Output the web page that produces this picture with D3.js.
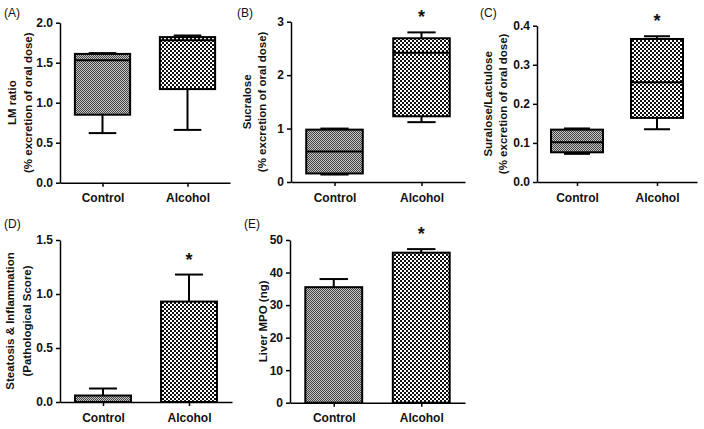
<!DOCTYPE html>
<meta charset="utf-8">
<script src="https://d3js.org/d3.v7.min.js"></script>
<style>
body { margin: 0; background: #fff; }
svg { font-family: Arial, "Liberation Sans", sans-serif; }
.axis path, .axis line { stroke: #000; stroke-width: 1.5px; }
.axis text { font-size: 12px; font-weight: bold; fill: #111; }
.ytitle { font-size: 11.5px; font-weight: bold; fill: #111; }
.plabel { font-size: 12px; fill: #111; }
.star { font-size: 18px; font-weight: bold; fill: #111; }
</style>
<body>
<script>

var groups = ["Control", "Alcohol"];

// box stats: [min, q1, median, q3, max]
var lmRatio   = [[0.62, 0.85, 1.53, 1.61, 1.62], [0.66, 1.17, 1.78, 1.82, 1.84]];
var sucralose = [[0.14, 0.16, 0.57, 0.98, 1.00], [1.12, 1.23, 2.42, 2.69, 2.80]];
var sucLac    = [[0.072, 0.076, 0.102, 0.134, 0.137], [0.135, 0.164, 0.255, 0.366, 0.373]];

// bar means and error (upper)
var pathMean = [0.06, 0.93];
var pathErr  = [0.065, 0.25];
var mpoMean  = [35.5, 46.1];
var mpoErr   = [2.5, 1.1];

var lmTicks   = [0, 0.5, 1.0, 1.5, 2.0];
var sucTicks  = [0, 1, 2, 3];
var slTicks   = [0, 0.1, 0.2, 0.3, 0.4];
var pathTicks = [0, 0.5, 1.0, 1.5];
var mpoTicks  = [0, 10, 20, 30, 40, 50];

var svg = d3.select("body").append("svg")
    .attr("width", 704)
    .attr("height", 429);

var defs = svg.append("defs");
// fine grey checker for control
var pc = defs.append("pattern").attr("id", "pctrl")
    .attr("width", 2).attr("height", 2).attr("patternUnits", "userSpaceOnUse");
pc.append("rect").attr("width", 2).attr("height", 2).attr("fill", "#c4c4c4");
pc.append("rect").attr("width", 1).attr("height", 1).attr("fill", "#444");
pc.append("rect").attr("x", 1).attr("y", 1).attr("width", 1).attr("height", 1).attr("fill", "#444");
// coarse black/white checker for alcohol
var pa = defs.append("pattern").attr("id", "palc")
    .attr("width", 4).attr("height", 4).attr("patternUnits", "userSpaceOnUse");
pa.append("rect").attr("width", 4).attr("height", 4).attr("fill", "#fff");
pa.append("rect").attr("width", 2).attr("height", 2).attr("fill", "#111");
pa.append("rect").attr("x", 2).attr("y", 2).attr("width", 2).attr("height", 2).attr("fill", "#111");

var fills = ["url(#pctrl)", "url(#palc)"];

function makePanel(p) {
  var x = d3.scalePoint().domain(groups).range([p.x0, p.x1]).padding(0.5);
  var y = d3.scaleLinear().domain([0, p.ticks[p.ticks.length - 1]]).range([p.y0, p.y1]);
  var g = svg.append("g");

  g.append("g").attr("class", "axis")
    .attr("transform", "translate(0," + p.y0 + ")")
    .call(d3.axisBottom(x).tickSize(4).tickSizeOuter(0).tickPadding(7));

  g.append("g").attr("class", "axis")
    .attr("transform", "translate(" + p.x0 + ",0)")
    .call(d3.axisLeft(y).tickValues(p.ticks).tickSize(4).tickSizeOuter(0).tickPadding(3)
      .tickFormat(d3.format(p.fmt)));

  var mid = (p.y0 + p.y1) / 2;
  p.titles.forEach(function(t, i) {
    g.append("text").attr("class", "ytitle")
      .attr("text-anchor", "middle")
      .attr("transform", "translate(" + p.tx[i] + "," + mid + ") rotate(-90)")
      .text(t);
  });

  g.append("text").attr("class", "plabel")
    .attr("x", p.lx).attr("y", p.ly).text(p.label);

  return {x: x, y: y, g: g, bw: x.step() * 0.65};
}

function drawBoxes(p, stats) {
  var s = makePanel(p);
  stats.forEach(function(d, i) {
    var cx = s.x(groups[i]), bw = s.bw, cw = bw * 0.5;
    var grp = s.g.append("g").attr("stroke", "#000").attr("stroke-width", 2);
    grp.append("line").attr("x1", cx).attr("x2", cx).attr("y1", s.y(d[0])).attr("y2", s.y(d[4]));
    grp.append("line").attr("x1", cx - cw / 2).attr("x2", cx + cw / 2).attr("y1", s.y(d[0])).attr("y2", s.y(d[0]));
    grp.append("line").attr("x1", cx - cw / 2).attr("x2", cx + cw / 2).attr("y1", s.y(d[4])).attr("y2", s.y(d[4]));
    grp.append("rect").attr("x", cx - bw / 2).attr("width", bw)
      .attr("y", s.y(d[3])).attr("height", s.y(d[1]) - s.y(d[3]))
      .attr("fill", fills[i]);
    grp.append("line").attr("x1", cx - bw / 2).attr("x2", cx + bw / 2).attr("y1", s.y(d[2])).attr("y2", s.y(d[2]));
  });
  if (p.star) addStar(s, stats[1][4]);
}

function drawBars(p, means, errs) {
  var s = makePanel(p);
  means.forEach(function(m, i) {
    var cx = s.x(groups[i]), bw = s.bw, cw = bw * 0.5;
    var grp = s.g.append("g").attr("stroke", "#000").attr("stroke-width", 2);
    grp.append("line").attr("x1", cx).attr("x2", cx).attr("y1", s.y(m)).attr("y2", s.y(m + errs[i]));
    grp.append("line").attr("x1", cx - cw / 2).attr("x2", cx + cw / 2)
      .attr("y1", s.y(m + errs[i])).attr("y2", s.y(m + errs[i]));
    grp.append("rect").attr("x", cx - bw / 2).attr("width", bw)
      .attr("y", s.y(m)).attr("height", s.y(0) - s.y(m))
      .attr("fill", fills[i]);
  });
  if (p.star) addStar(s, means[1] + errs[1]);
}

function addStar(s, top) {
  s.g.append("text").attr("class", "star")
    .attr("text-anchor", "middle")
    .attr("x", s.x(groups[1]))
    .attr("y", s.y(top) - 9)
    .text("*");
}

drawBoxes({x0: 60, x1: 230, y0: 182.7, y1: 22.7, ticks: lmTicks, fmt: ".1f",
  titles: ["LM ratio", "(% excretion of oral dose)"], tx: [16, 32],
  label: "(A)", lx: 4, ly: 17, star: false}, lmRatio);

drawBoxes({x0: 291, x1: 465, y0: 182, y1: 21.7, ticks: sucTicks, fmt: "d",
  titles: ["Sucralose", "(% excretion of oral dose)"], tx: [251, 266],
  label: "(B)", lx: 237, ly: 17, star: true}, sucralose);

drawBoxes({x0: 537, x1: 697, y0: 182, y1: 25.7, ticks: slTicks, fmt: ".1f",
  titles: ["Suralose/Lactulose", "(% excretion of oral dose)"], tx: [492, 507],
  label: "(C)", lx: 480, ly: 17, star: true}, sucLac);

drawBars({x0: 60, x1: 232, y0: 402, y1: 240, ticks: pathTicks, fmt: ".1f",
  titles: ["Steatosis & Inflammation", "(Pathological Score)"], tx: [14, 31],
  label: "(D)", lx: 4, ly: 228, star: true}, pathMean, pathErr);

drawBars({x0: 290, x1: 465, y0: 402.7, y1: 240, ticks: mpoTicks, fmt: "d",
  titles: ["Liver MPO (ng)"], tx: [267],
  label: "(E)", lx: 244, ly: 228, star: true}, mpoMean, mpoErr);

</script>
</body>
